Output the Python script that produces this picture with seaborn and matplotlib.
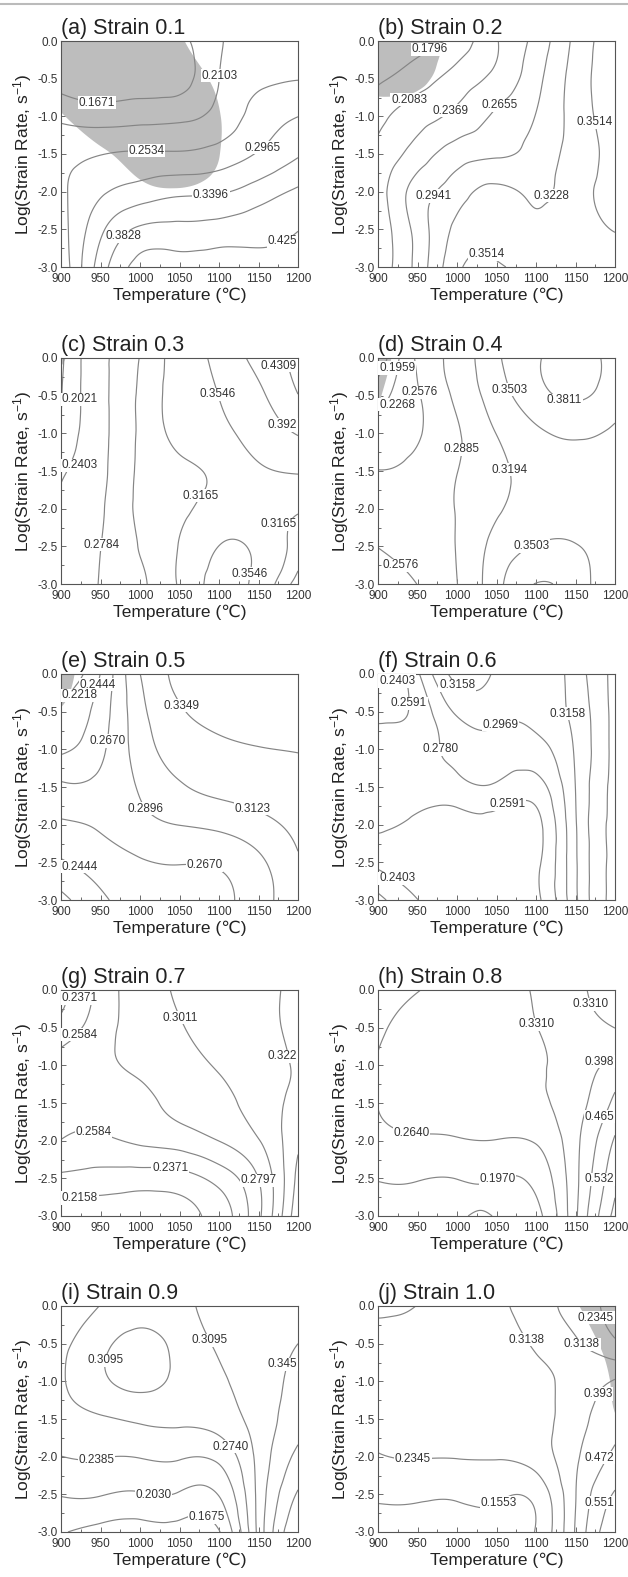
import numpy as np
import matplotlib
matplotlib.use("Agg")
import matplotlib.pyplot as plt
import matplotlib.tri as mtri
from matplotlib.lines import Line2D
from matplotlib.ticker import MultipleLocator, FormatStrFormatter
import seaborn as sns

# grid of the processing maps
TEMPS = [900, 950, 1000, 1050, 1100, 1150, 1200]
LOG_RATES = [0.0, -0.5, -1.0, -1.5, -2.0, -2.5, -3.0]

# power dissipation efficiency, rows = LOG_RATES, columns = TEMPS
ETA_A = [[0.130, 0.128, 0.135, 0.155, 0.205, 0.235, 0.240],
         [0.150, 0.140, 0.145, 0.150, 0.210, 0.245, 0.252],
         [0.200, 0.190, 0.195, 0.200, 0.225, 0.270, 0.296],
         [0.240, 0.252, 0.258, 0.258, 0.270, 0.300, 0.335],
         [0.245, 0.290, 0.315, 0.330, 0.335, 0.360, 0.390],
         [0.235, 0.330, 0.390, 0.395, 0.400, 0.410, 0.425],
         [0.220, 0.360, 0.440, 0.445, 0.450, 0.440, 0.440]]
ETA_B = [[0.160, 0.170, 0.190, 0.235, 0.275, 0.330, 0.370],
         [0.175, 0.195, 0.220, 0.245, 0.285, 0.335, 0.370],
         [0.200, 0.225, 0.245, 0.270, 0.295, 0.335, 0.365],
         [0.215, 0.250, 0.280, 0.290, 0.305, 0.335, 0.360],
         [0.222, 0.278, 0.310, 0.330, 0.318, 0.340, 0.358],
         [0.220, 0.276, 0.330, 0.340, 0.328, 0.340, 0.352],
         [0.220, 0.275, 0.345, 0.356, 0.340, 0.340, 0.345]]
ETA_C = [[0.195, 0.270, 0.298, 0.330, 0.365, 0.405, 0.440],
         [0.200, 0.270, 0.300, 0.330, 0.355, 0.385, 0.430],
         [0.210, 0.270, 0.300, 0.325, 0.345, 0.370, 0.395],
         [0.235, 0.272, 0.300, 0.310, 0.325, 0.348, 0.358],
         [0.245, 0.275, 0.300, 0.310, 0.330, 0.330, 0.320],
         [0.247, 0.278, 0.298, 0.318, 0.355, 0.345, 0.305],
         [0.250, 0.280, 0.296, 0.320, 0.370, 0.340, 0.290]]
ETA_D = [[0.170, 0.262, 0.300, 0.345, 0.378, 0.390, 0.372],
         [0.215, 0.255, 0.295, 0.335, 0.370, 0.385, 0.365],
         [0.240, 0.255, 0.285, 0.320, 0.345, 0.355, 0.345],
         [0.258, 0.265, 0.288, 0.310, 0.335, 0.338, 0.335],
         [0.262, 0.270, 0.290, 0.315, 0.335, 0.335, 0.330],
         [0.258, 0.268, 0.290, 0.330, 0.352, 0.352, 0.330],
         [0.240, 0.258, 0.288, 0.340, 0.382, 0.365, 0.325]]
ETA_E = [[0.205, 0.245, 0.312, 0.338, 0.345, 0.350, 0.350],
         [0.225, 0.255, 0.305, 0.333, 0.342, 0.345, 0.345],
         [0.240, 0.262, 0.300, 0.322, 0.330, 0.334, 0.336],
         [0.270, 0.272, 0.292, 0.310, 0.318, 0.322, 0.325],
         [0.264, 0.270, 0.282, 0.290, 0.295, 0.305, 0.318],
         [0.242, 0.255, 0.265, 0.268, 0.270, 0.285, 0.310],
         [0.215, 0.240, 0.255, 0.260, 0.262, 0.280, 0.305]]
ETA_F = [[0.235, 0.275, 0.322, 0.312, 0.300, 0.325, 0.360],
         [0.255, 0.265, 0.300, 0.302, 0.302, 0.322, 0.360],
         [0.265, 0.273, 0.283, 0.290, 0.290, 0.318, 0.360],
         [0.268, 0.270, 0.272, 0.275, 0.270, 0.316, 0.360],
         [0.262, 0.255, 0.251, 0.252, 0.253, 0.314, 0.360],
         [0.245, 0.250, 0.254, 0.255, 0.255, 0.313, 0.360],
         [0.215, 0.240, 0.250, 0.254, 0.255, 0.312, 0.360]]
ETA_G = [[0.230, 0.265, 0.292, 0.303, 0.310, 0.315, 0.330],
         [0.245, 0.270, 0.290, 0.300, 0.308, 0.315, 0.330],
         [0.265, 0.275, 0.284, 0.293, 0.303, 0.313, 0.325],
         [0.262, 0.267, 0.275, 0.285, 0.295, 0.310, 0.330],
         [0.258, 0.255, 0.262, 0.268, 0.280, 0.300, 0.340],
         [0.232, 0.228, 0.226, 0.228, 0.245, 0.280, 0.350],
         [0.205, 0.205, 0.205, 0.210, 0.225, 0.275, 0.360]]
ETA_H = [[0.235, 0.262, 0.290, 0.315, 0.335, 0.345, 0.270],
         [0.255, 0.285, 0.300, 0.315, 0.330, 0.350, 0.330],
         [0.266, 0.290, 0.300, 0.312, 0.325, 0.360, 0.420],
         [0.2645, 0.285, 0.295, 0.305, 0.320, 0.370, 0.480],
         [0.245, 0.255, 0.258, 0.262, 0.270, 0.380, 0.540],
         [0.200, 0.200, 0.198, 0.198, 0.215, 0.380, 0.580],
         [0.185, 0.190, 0.192, 0.193, 0.180, 0.385, 0.620]]
ETA_I = [[0.245, 0.275, 0.295, 0.305, 0.318, 0.330, 0.335],
         [0.265, 0.300, 0.318, 0.305, 0.313, 0.330, 0.345],
         [0.270, 0.302, 0.318, 0.303, 0.305, 0.328, 0.355],
         [0.262, 0.270, 0.280, 0.282, 0.290, 0.325, 0.365],
         [0.238, 0.240, 0.240, 0.242, 0.248, 0.320, 0.390],
         [0.205, 0.205, 0.200, 0.200, 0.205, 0.320, 0.420],
         [0.170, 0.155, 0.150, 0.152, 0.165, 0.320, 0.450]]
ETA_J = [[0.225, 0.236, 0.280, 0.305, 0.325, 0.290, 0.200],
         [0.250, 0.265, 0.285, 0.300, 0.318, 0.320, 0.250],
         [0.255, 0.270, 0.285, 0.295, 0.300, 0.340, 0.400],
         [0.250, 0.260, 0.275, 0.285, 0.290, 0.360, 0.450],
         [0.230, 0.238, 0.238, 0.240, 0.270, 0.380, 0.490],
         [0.170, 0.170, 0.168, 0.170, 0.180, 0.390, 0.560],
         [0.120, 0.120, 0.120, 0.125, 0.160, 0.400, 0.620]]

# instability parameter (negative = unstable, shaded)
XI_A = [[-0.50, -0.50, -0.40, -0.05, 0.30, 0.50, 0.60],
        [-0.40, -0.45, -0.40, -0.20, 0.10, 0.50, 0.60],
        [0.05, -0.30, -0.35, -0.30, -0.02, 0.40, 0.50],
        [0.40, 0.10, -0.20, -0.25, -0.01, 0.40, 0.50],
        [0.60, 0.50, 0.15, 0.05, 0.20, 0.50, 0.60],
        [0.60, 0.60, 0.60, 0.60, 0.60, 0.60, 0.60],
        [0.60, 0.60, 0.60, 0.60, 0.60, 0.60, 0.60]]
XI_B = [[-0.50, -0.40, 0.20, 0.50, 0.50, 0.50, 0.50],
        [-0.30, -0.20, 0.40, 0.50, 0.50, 0.50, 0.50],
        [0.30, 0.40, 0.50, 0.50, 0.50, 0.50, 0.50],
        [0.50, 0.50, 0.50, 0.50, 0.50, 0.50, 0.50],
        [0.50, 0.50, 0.50, 0.50, 0.50, 0.50, 0.50],
        [0.50, 0.50, 0.50, 0.50, 0.50, 0.50, 0.50],
        [0.50, 0.50, 0.50, 0.50, 0.50, 0.50, 0.50]]
XI_C = [[-0.10, 0.50, 0.50, 0.50, 0.50, 0.50, 0.50],
        [0.30, 0.50, 0.50, 0.50, 0.50, 0.50, 0.50],
        [0.50, 0.50, 0.50, 0.50, 0.50, 0.50, 0.50],
        [0.50, 0.50, 0.50, 0.50, 0.50, 0.50, 0.50],
        [0.50, 0.50, 0.50, 0.50, 0.50, 0.50, 0.50],
        [0.50, 0.50, 0.50, 0.50, 0.50, 0.50, 0.50],
        [0.50, 0.50, 0.50, 0.50, 0.50, 0.50, 0.50]]
XI_D = [[-0.20, 0.30, 0.50, 0.50, 0.50, 0.50, 0.50],
        [-0.05, 0.40, 0.50, 0.50, 0.50, 0.50, 0.50],
        [0.20, 0.50, 0.50, 0.50, 0.50, 0.50, 0.50],
        [0.50, 0.50, 0.50, 0.50, 0.50, 0.50, 0.50],
        [0.50, 0.50, 0.50, 0.50, 0.50, 0.50, 0.50],
        [0.50, 0.50, 0.50, 0.50, 0.50, 0.50, 0.50],
        [0.50, 0.50, 0.50, 0.50, 0.50, 0.50, 0.50]]
XI_E = [[-0.20, 0.30, 0.50, 0.50, 0.50, 0.50, 0.50],
        [0.05, 0.40, 0.50, 0.50, 0.50, 0.50, 0.50],
        [0.50, 0.50, 0.50, 0.50, 0.50, 0.50, 0.50],
        [0.50, 0.50, 0.50, 0.50, 0.50, 0.50, 0.50],
        [0.50, 0.50, 0.50, 0.50, 0.50, 0.50, 0.50],
        [0.50, 0.50, 0.50, 0.50, 0.50, 0.50, 0.50],
        [0.50, 0.50, 0.50, 0.50, 0.50, 0.50, 0.50]]
XI_J = [[0.50, 0.50, 0.50, 0.50, 0.50, 0.05, -0.40],
        [0.50, 0.50, 0.50, 0.50, 0.50, 0.30, -0.25],
        [0.50, 0.50, 0.50, 0.50, 0.50, 0.50, -0.10],
        [0.50, 0.50, 0.50, 0.50, 0.50, 0.50, 0.05],
        [0.50, 0.50, 0.50, 0.50, 0.50, 0.50, 0.50],
        [0.50, 0.50, 0.50, 0.50, 0.50, 0.50, 0.50],
        [0.50, 0.50, 0.50, 0.50, 0.50, 0.50, 0.50]]

# contour levels and the text written on them ("" = not labelled)
LEVELS_A = [0.1671, 0.2103, 0.2534, 0.2965, 0.3396, 0.3828, 0.4259]
TEXT_A = ["0.1671", "0.2103", "0.2534", "0.2965", "0.3396", "0.3828", "0.425"]
LEVELS_B = [0.1796, 0.2083, 0.2369, 0.2655, 0.2941, 0.3228, 0.3514]
TEXT_B = ["0.1796", "0.2083", "0.2369", "0.2655", "0.2941", "0.3228", "0.3514"]
LEVELS_C = [0.2021, 0.2403, 0.2784, 0.2975, 0.3165, 0.3546, 0.3927, 0.4309]
TEXT_C = ["0.2021", "0.2403", "0.2784", "", "0.3165", "0.3546", "0.392", "0.4309"]
LEVELS_D = [0.1959, 0.2268, 0.2576, 0.2885, 0.3194, 0.3503, 0.3811]
TEXT_D = ["0.1959", "0.2268", "0.2576", "0.2885", "0.3194", "0.3503", "0.3811"]
LEVELS_E = [0.2218, 0.2444, 0.2670, 0.2896, 0.3123, 0.3349]
TEXT_E = ["0.2218", "0.2444", "0.2670", "0.2896", "0.3123", "0.3349"]
LEVELS_F = [0.2214, 0.2403, 0.2591, 0.2780, 0.2969, 0.3158, 0.3346, 0.3535]
TEXT_F = ["", "0.2403", "0.2591", "0.2780", "0.2969", "0.3158", "0.334", ""]
LEVELS_G = [0.2158, 0.2371, 0.2584, 0.2797, 0.3011, 0.3224, 0.3437]
TEXT_G = ["0.2158", "0.2371", "0.2584", "0.2797", "0.3011", "0.322", ""]
LEVELS_H = [0.1970, 0.2640, 0.3310, 0.3980, 0.4650, 0.5320, 0.5990]
TEXT_H = ["0.1970", "0.2640", "0.3310", "0.398", "0.465", "0.532", ""]
LEVELS_I = [0.1675, 0.2030, 0.2385, 0.2740, 0.3095, 0.3450, 0.3805, 0.4160]
TEXT_I = ["0.1675", "0.2030", "0.2385", "0.2740", "0.3095", "0.345", "", ""]
LEVELS_J = [0.1553, 0.2345, 0.3138, 0.3930, 0.4723, 0.5515]
TEXT_J = ["0.1553", "0.2345", "0.3138", "0.393", "0.472", "0.551"]

TITLES = ["(a) Strain 0.1", "(b) Strain 0.2", "(c) Strain 0.3", "(d) Strain 0.4",
          "(e) Strain 0.5", "(f) Strain 0.6", "(g) Strain 0.7", "(h) Strain 0.8",
          "(i) Strain 0.9", "(j) Strain 1.0"]

# where the labels sit on the map (layout only)
LABEL_SPOTS = [
    [(946, -0.69), (1115, -0.47), (1008, -1.45), (1153, -1.39), (1090, -2.07), (974, -2.55), (1181, -2.64)],
    [(966, -0.13), (943, -0.84), (998, -1.0), (1055, -0.87), (962, -2.0), (1107, -2.0), (1168, -1.09), (1036, -2.87)],
    [(908, -0.55), (919, -1.46), (944, -2.47), (1065, -1.75), (1103, -0.47), (1170, -0.15), (1181, -0.9), (1181, -2.18), (1134, -2.85)],
    [(912, -0.16), (919, -0.71), (955, -0.45), (929, -2.74), (988, -1.2), (1068, -1.48), (1059, -0.45), (1097, -2.56), (1139, -0.45)],
    [(946, -0.14), (919, -0.38), (1048, -0.45), (946, -0.87), (1023, -1.66), (1145, -1.71), (1084, -2.41), (919, -2.55)],
    [(919, -0.14), (927, -0.39), (1001, -0.14), (1135, -0.54), (1057, -0.72), (978, -1.0), (1068, -1.83), (925, -2.62), (1179, -1.96)],
    [(921, -0.14), (1029, -0.47), (927, -0.67), (1183, -0.89), (944, -1.73), (1039, -2.24), (1143, -2.55), (919, -2.74)],
    [(1164, -0.21), (1091, -0.49), (1179, -0.86), (1179, -1.65), (944, -1.76), (1051, -2.5), (1179, -2.5)],
    [(972, -0.75), (1085, -0.47), (1180, -0.75), (1120, -1.83), (944, -1.98), (1020, -2.33), (1083, -2.83)],
    [(1177, -0.18), (1085, -0.47), (1160, -0.49), (1183, -1.19), (944, -1.89), (1181, -1.96), (1049, -2.56), (1181, -2.57)],
]

PANELS = list(zip(TITLES,
                  [ETA_A, ETA_B, ETA_C, ETA_D, ETA_E, ETA_F, ETA_G, ETA_H, ETA_I, ETA_J],
                  [LEVELS_A, LEVELS_B, LEVELS_C, LEVELS_D, LEVELS_E, LEVELS_F, LEVELS_G, LEVELS_H, LEVELS_I, LEVELS_J],
                  [TEXT_A, TEXT_B, TEXT_C, TEXT_D, TEXT_E, TEXT_F, TEXT_G, TEXT_H, TEXT_I, TEXT_J],
                  [XI_A, XI_B, XI_C, XI_D, XI_E, None, None, None, None, XI_J],
                  LABEL_SPOTS))

sns.set_theme(style="ticks")
plt.rcParams['font.family'] = ['Liberation Sans', 'DejaVu Sans']
plt.rcParams['mathtext.default'] = 'regular'
plt.rcParams['axes.unicode_minus'] = False

# smooth surfaces through the grid values (cubic triangle interpolation)
n_t, n_r = len(TEMPS), len(LOG_RATES)
tris = []
for i in range(n_r - 1):
    for j in range(n_t - 1):
        a = i * n_t + j
        tris += [[a, a + 1, a + n_t + 1], [a, a + n_t + 1, a + n_t]]
gx, gy = np.meshgrid(np.arange(n_t, dtype=float), np.arange(n_r, dtype=float))
base_tri = mtri.Triangulation(gx.ravel(), gy.ravel(), tris)
fx = np.linspace(0, n_t - 1, 181)
fy = np.linspace(0, n_r - 1, 181)
FX, FY = np.meshgrid(fx, fy)
TT = np.interp(FX, np.arange(n_t), TEMPS)
RR = np.interp(FY, np.arange(n_r), LOG_RATES)


def surface(field):
    interp = mtri.CubicTriInterpolator(base_tri, np.asarray(field, dtype=float).ravel(), kind='min_E')
    return interp(FX, FY)


fig = plt.figure(figsize=(6.28, 15.77), dpi=100)
W, H = 628.0, 1577.0
col_left = [61, 378]
row_top = [41, 358, 674, 990, 1306]
aw, ah = 237, 226

fig.add_artist(Line2D([0, 1], [1 - 4 / H, 1 - 4 / H], color='#bbbbbb', lw=1.5,
                      transform=fig.transFigure))

drawn = []
for k, (title, eta, levels, texts, xi, spots) in enumerate(PANELS):
    r, c = divmod(k, 2)
    ax = fig.add_axes([col_left[c] / W, 1 - (row_top[r] + ah) / H, aw / W, ah / H])
    ax.set_xlim(900, 1200)
    ax.set_ylim(-3, 0)

    if xi is not None:
        ax.contourf(TT, RR, surface(xi), levels=[-10, 0], colors=['#bdbdbd'], antialiased=True)

    cs = ax.contour(TT, RR, surface(eta), levels=levels, colors='#858585', linewidths=0.85)
    lookup = dict(zip(levels, texts))

    def fmt(v, lookup=lookup):
        key = min(lookup, key=lambda q: abs(q - v))
        return lookup[key]

    ax.set_xlim(900, 1200)
    ax.set_ylim(-3, 0)
    ax.clabel(cs, manual=spots, inline=False, fmt=fmt, fontsize=8.5, colors='#333333')
    for t in cs.labelTexts:
        t.set_rotation(0)
        t.set_clip_on(True)
        if t.get_text():
            t.set_bbox(dict(boxstyle='square,pad=0.05', fc='white', ec='none'))
    drawn.append((ax, cs))

    ax.xaxis.set_major_locator(MultipleLocator(50))
    ax.xaxis.set_minor_locator(MultipleLocator(25))
    ax.yaxis.set_major_locator(MultipleLocator(0.5))
    ax.yaxis.set_minor_locator(MultipleLocator(0.25))
    ax.yaxis.set_major_formatter(FormatStrFormatter('%.1f'))
    ax.tick_params(which='both', direction='in', top=False, right=False,
                   colors='#555555', labelcolor='#333333', labelsize=8.5, width=0.6)
    ax.tick_params(which='major', length=3.5)
    ax.tick_params(axis='x', which='major', pad=4)
    ax.tick_params(axis='y', which='major', pad=2)
    ax.tick_params(which='minor', length=2)
    for s in ax.spines.values():
        s.set_color('#555555')
        s.set_linewidth(0.8)

    ax.set_title(title, loc='left', fontsize=15.5, pad=5, color='#222222')
    ax.set_xlabel("Temperature (\u2103)", fontsize=12.5, labelpad=2, color='#222222')
    ax.set_ylabel("Log(Strain Rate, s$^{-1}$)", fontsize=12.5, labelpad=3, color='#222222')

# keep every contour label inside its frame
renderer = fig.canvas.get_renderer()
for ax, cs in drawn:
    abb = ax.get_window_extent(renderer)
    for t in cs.labelTexts:
        if not t.get_text():
            continue
        bb = t.get_window_extent(renderer)
        dx = dy = 0.0
        if bb.x0 < abb.x0 + 1:
            dx = abb.x0 + 1 - bb.x0
        elif bb.x1 > abb.x1 - 1:
            dx = abb.x1 - 1 - bb.x1
        if bb.y1 > abb.y1 - 1:
            dy = abb.y1 - 1 - bb.y1
        elif bb.y0 < abb.y0 + 1:
            dy = abb.y0 + 1 - bb.y0
        if dx or dy:
            px, py = ax.transData.transform(t.get_position())
            t.set_position(ax.transData.inverted().transform((px + dx, py + dy)))

fig.savefig('out.png', dpi=100)
